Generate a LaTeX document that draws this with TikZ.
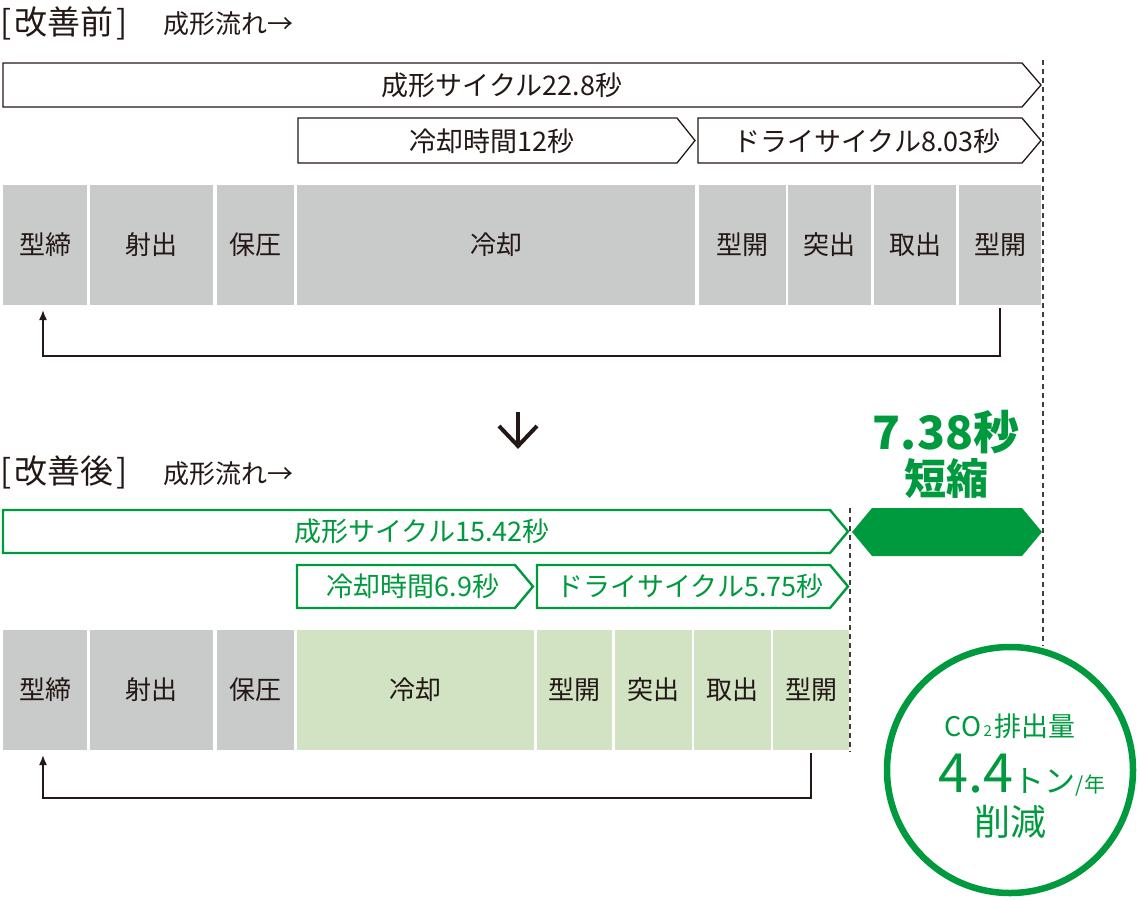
\documentclass[tikz,border=0pt]{standalone}
\usepackage{fontspec}
\setmainfont{Noto Sans CJK JP}
\usetikzlibrary{calc,arrows.meta}
\definecolor{ink}{RGB}{35,24,21}
\definecolor{boxgray}{RGB}{201,202,202}
\definecolor{grn}{RGB}{0,154,62}
\definecolor{lgrn}{RGB}{209,227,195}
\newcommand{\fs}[1]{\fontsize{#1}{#1}\selectfont}
\tikzset{
  gbox/.style={fill=boxgray, draw=none, inner sep=0pt, outer sep=0pt, minimum height=120pt, text=ink, font=\fs{26}},
  lbox/.style={gbox, fill=lgrn},
  barblack/.style={draw=ink, line width=1.3pt, fill=white, line join=miter},
  bargreen/.style={draw=grn, line width=2.4pt, fill=white, line join=miter},
  bartext/.style={inner sep=0pt, text=ink, font=\fs{27}},
  bartextg/.style={bartext, text=grn},
  ttl/.style={inner sep=0pt, anchor=west, text=ink, font=\fs{33}},
  sub/.style={inner sep=0pt, anchor=west, text=ink, font=\fs{26}},
  ret/.style={draw=ink, line width=1.6pt, -{Latex[length=10pt,width=8pt]}},
  guide/.style={draw=ink!85, line width=1.4pt, dash pattern=on 5pt off 4pt},
}
\begin{document}
\begin{tikzpicture}[x=1pt,y=-1pt]
\useasboundingbox (0,0) rectangle (1140,900);

% ---------- before ----------
\node[ttl] (t1) at (0,23) {[\hspace{3pt}改善前\hspace{3pt}]};
\node[sub] (s1) at (163,24) {成形流れ→};

\draw[barblack] (3,63) -- (1022,63) -- (1041,85) -- (1022,107) -- (3,107) -- cycle;
\draw[barblack] (298,118) -- (677,118) -- (695,140.5) -- (677,163) -- (298,163) -- cycle;
\draw[barblack] (698,118) -- (1022,118) -- (1041,140.5) -- (1022,163) -- (698,163) -- cycle;
\node[bartext] (l1) at (502,85) {成形サイクル22.8秒};
\node[bartext] (l2) at (492,141) {冷却時間12秒};
\node[bartext] (l3) at (867,141) {ドライサイクル8.03秒};

\node[gbox, minimum width=84pt]  (b1) at (45,245) {型締};
\node[gbox, minimum width=123pt] (b2) at (151.5,245) {射出};
\node[gbox, minimum width=77pt]  (b3) at (255.5,245) {保圧};
\node[gbox, minimum width=398pt] (b4) at (496,245) {冷却};
\node[gbox, minimum width=87pt]  (b5) at (742.5,245) {型開};
\node[gbox, minimum width=83pt]  (b6) at (829.5,245) {突出};
\node[gbox, minimum width=82pt]  (b7) at (915,245) {取出};
\node[gbox, minimum width=82pt]  (b8) at (1000,245) {型開};

\draw[ret] ([yshift=-3pt]b8.south) -- ++(0,48) -| ([xshift=-2pt,yshift=-5pt]b1.south);

% down arrow
\coordinate (da1) at (518,412);
\coordinate (da2) at (518,446);
\draw[ink, line width=4pt] (da1) -- ($(da2)+(0,-2)$);
\draw[ink, line width=4pt, line join=miter] ($(da2)+(-19,-20)$) -- (da2) -- ($(da2)+(19,-20)$);

% ---------- after ----------
\node[ttl] (t2) at (0,472) {[\hspace{3pt}改善後\hspace{3pt}]};
\node[sub] (s2) at (163,474) {成形流れ→};

\draw[bargreen] (3,510) -- (830,510) -- (848,531.5) -- (830,553) -- (3,553) -- cycle;
\draw[bargreen] (297,565) -- (515,565) -- (533,586.5) -- (515,608) -- (297,608) -- cycle;
\draw[bargreen] (537,565) -- (830,565) -- (848,586.5) -- (830,608) -- (537,608) -- cycle;
\node[bartextg] (m1) at (422,531) {成形サイクル15.42秒};
\node[bartextg] (m2) at (413,586) {冷却時間6.9秒};
\node[bartextg] (m3) at (690,586) {ドライサイクル5.75秒};

\node[gbox, minimum width=84pt]  (c1) at (45,690) {型締};
\node[gbox, minimum width=123pt] (c2) at (151.5,690) {射出};
\node[gbox, minimum width=77pt]  (c3) at (255.5,690) {保圧};
\node[lbox, minimum width=237pt] (c4) at (415.5,690) {冷却};
\node[lbox, minimum width=75pt]  (c5) at (574.5,690) {型開};
\node[lbox, minimum width=77pt]  (c6) at (653.5,690) {突出};
\node[lbox, minimum width=77pt]  (c7) at (732.5,690) {取出};
\node[lbox, minimum width=76pt]  (c8) at (811,690) {型開};

\draw[ret] ([yshift=-3pt]c8.south) -- ++(0,45) -| ([xshift=-2pt,yshift=-5pt]c1.south);

% reduction badge
\node[inner sep=0pt, text=grn, font=\fs{46}\bfseries] (r1) at (946,432) {7.38秒};
\node[inner sep=0pt, text=grn, font=\fs{42}\bfseries] (r2) at (946,479) {短縮};
\fill[grn] (852,532) -- (872,508) -- (1022,508) -- (1042,532) -- (1022,556) -- (872,556) -- cycle;

% circle and guides
\node[circle, draw=grn, line width=6.5pt, minimum size=246pt, inner sep=0pt] (co) at (1010,770) {};
\coordinate (g1) at (1043,60);
\coordinate (g2) at (1043,646);
\draw[guide] (g1) -- (g2);
\coordinate (g3) at (850,508);
\coordinate (g4) at (850,752);
\draw[guide] (g3) -- (g4);

% circle text
\node[inner sep=0pt, text=grn, font=\fs{27}] (k1) at (1010,726) {CO{\fs{15}\,2\,}排出量};
\node[inner sep=0pt, text=grn, anchor=base] (k2) at (1022,792) {{\fs{54}4.4}{\fs{31}トン}{\fs{21}/年}};
\node[inner sep=0pt, text=grn, font=\fs{36}] (k3) at (1010,822) {削減};
\end{tikzpicture}
\end{document}
